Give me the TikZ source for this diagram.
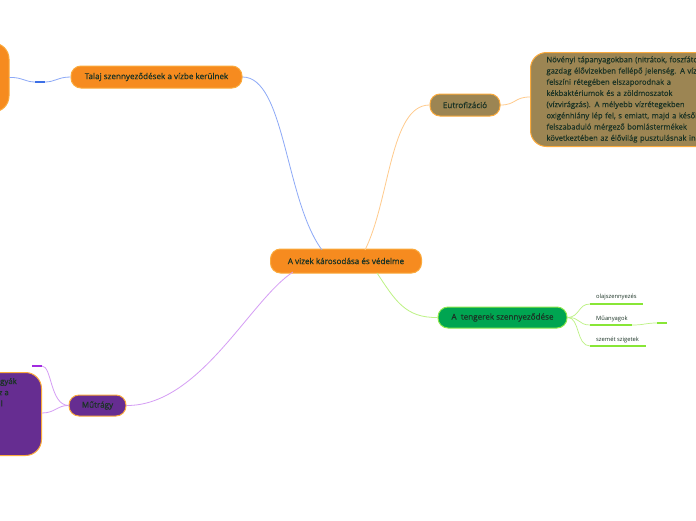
\documentclass[tikz,border=0pt]{standalone}
\usepackage{fontspec}
\setmainfont{Open Sans}
\newfontfamily\semib{Open Sans}[FakeBold=0.6]
\definecolor{txt}{HTML}{1B3325}
\definecolor{org}{HTML}{F68B1F}
\definecolor{orgb}{HTML}{FBAA3C}
\definecolor{brn}{HTML}{9C8553}
\definecolor{grn}{HTML}{00A551}
\definecolor{grnb}{HTML}{8CE84A}
\definecolor{prp}{HTML}{662D91}
\definecolor{lblue}{HTML}{8DA9F7}
\definecolor{dblue}{HTML}{3C6FE6}
\definecolor{lorg}{HTML}{FFCB8C}
\definecolor{lgrn}{HTML}{BDF284}
\definecolor{ulgrn}{HTML}{88E636}
\definecolor{lprp}{HTML}{D59DF5}
\definecolor{dprp}{HTML}{A22BE0}
\tikzset{
  pill/.style={draw=orgb, line width=1pt, rounded corners=10pt, text=txt, font=\semib\fontsize{8.1}{9}\selectfont, inner sep=0pt, align=center},
  bigbox/.style={draw=orgb, line width=1pt, rounded corners=16pt, text=txt, inner sep=0pt},
  leaf/.style={text=txt, font=\fontsize{5.8}{7}\selectfont, inner sep=0pt, anchor=base west},
  conn/.style={line width=0.8pt},
  uline/.style={ulgrn, line width=1.6pt}
}
\begin{document}
\begin{tikzpicture}[x=1pt,y=-1pt]
\clip (0,0) rectangle (696,520);
\fill[white] (0,0) rectangle (696,520);

% nodes
\node[pill, fill=org, minimum width=151pt, minimum height=24pt] (c) at (346,261) {A vizek károsodása és védelme};
\node[pill, fill=org, minimum width=171pt, minimum height=22pt] (talaj) at (156.5,77) {Talaj szennyeződések a vízbe kerülnek};
\node[bigbox, fill=org, minimum width=80pt, minimum height=69pt] (lbox) at (-31,77.5) {};
\node[pill, fill=brn, minimum width=70pt, minimum height=22pt] (eu) at (465,105) {Eutrofizáció};
\node[bigbox, fill=brn, minimum width=230pt, minimum height=94pt, anchor=north west, text width=214pt, align=left, inner xsep=16pt, font=\semib\fontsize{7.6}{11.2}\selectfont] (eubox) at (530,52) {Növényi tápanyagokban (nitrátok, foszfátok)\\gazdag élővizekben fellépő jelenség. A víz\\felszíni rétegében elszaporodnak a\\kékbaktériumok és a zöldmoszatok\\(vízvirágzás). A mélyebb vízrétegekben\\oxigénhiány lép fel, s emiatt, majd a később\\felszabaduló mérgező bomlástermékek\\következtében az élővilág pusztulásnak indul.};
\node[pill, draw=grnb, fill=grn, minimum width=129pt, minimum height=21pt] (ten) at (502.5,317.5) {A\ \ tengerek szennyeződése};
\node[pill, fill=prp, minimum width=57pt, minimum height=21pt] (mu) at (97.5,405.5) {Műtrágy};
\node[bigbox, fill=prp, minimum width=192pt, minimum height=83pt, anchor=north east] (pbox) at (42,372) {};
\node[text=txt, font=\semib\fontsize{7.8}{9}\selectfont, inner sep=0pt, anchor=base east] (p1) at (17,384) {gyák};
\node[text=txt, font=\semib\fontsize{7.8}{9}\selectfont, inner sep=0pt, anchor=base east] (p2) at (9,395.2) {z a};
\node[text=txt, font=\semib\fontsize{7.8}{9}\selectfont, inner sep=0pt, anchor=base east] (p3) at (3,406.4) {l};

% leaves
\node[leaf] (l1) at (596,298.5) {olajszennyezés};
\node[leaf] (l2) at (596,320) {Műanyagok};
\node[leaf] (l3) at (596,341.5) {szemét szigetek};
\coordinate (u1a) at (590,304); \coordinate (u1b) at (643,304);
\coordinate (u2a) at (590,325); \coordinate (u2b) at (632,325);
\coordinate (u3a) at (590,346); \coordinate (u3b) at (646,346);
\coordinate (u2c) at (657,323); \coordinate (u2d) at (667,323);

% connection points on central node
\coordinate (cb) at (322,250);
\coordinate (co) at (365,250);
\coordinate (cg) at (377,273);
\coordinate (cp) at (293,272);

% connectors from center
\draw[conn, lblue] (talaj.east) .. controls (285,77) and (285,200) .. (cb);
\draw[conn, lorg] (co) .. controls (390,200) and (390,105) .. (eu.west);
\draw[conn, lgrn] (cg) .. controls (395,300) and (405,318) .. (ten.west);
\draw[conn, lprp] (cp) .. controls (250,300) and (200,406) .. (mu.east);

% talaj -> left box
\coordinate (tb1) at (35,82); \coordinate (tb2) at (45,82);
\draw[conn, lblue] (talaj.west) .. controls (58,77) and (55,82) .. (tb2);
\draw[line width=1.8pt, dblue] (tb1) -- (tb2);
\draw[conn, lblue] (tb1) .. controls (25,82) and (22,77) .. (lbox.east);

% eutro -> box
\draw[conn, lorg] (eu.east) .. controls (516,105) and (514,97) .. (eubox.west |- 0,97);

% mutragy -> purple box and stub
\coordinate (ps1) at (32,366); \coordinate (ps2) at (42,366);
\draw[conn, lprp] (mu.west) .. controls (58,405) and (55,413) .. (pbox.east |- 0,413);
\draw[conn, lprp] (mu.west) .. controls (50,405) and (52,366) .. (ps2);
\draw[line width=1.6pt, dprp] (ps1) -- (ps2);

% tengerek -> leaves
\draw[conn, lgrn, line width=0.7pt] (ten.east) .. controls (580,317) and (578,304) .. (u1a);
\draw[conn, lgrn, line width=0.7pt] (ten.east) .. controls (580,317) and (578,325) .. (u2a);
\draw[conn, lgrn, line width=0.7pt] (ten.east) .. controls (580,317) and (576,346) .. (u3a);
\draw[uline] (u1a) -- (u1b);
\draw[uline] (u2a) -- (u2b);
\draw[uline] (u3a) -- (u3b);
\draw[conn, lgrn, line width=0.7pt] (u2b) .. controls (645,325) and (645,323) .. (u2c);
\draw[uline] (u2c) -- (u2d);
\end{tikzpicture}
\end{document}
